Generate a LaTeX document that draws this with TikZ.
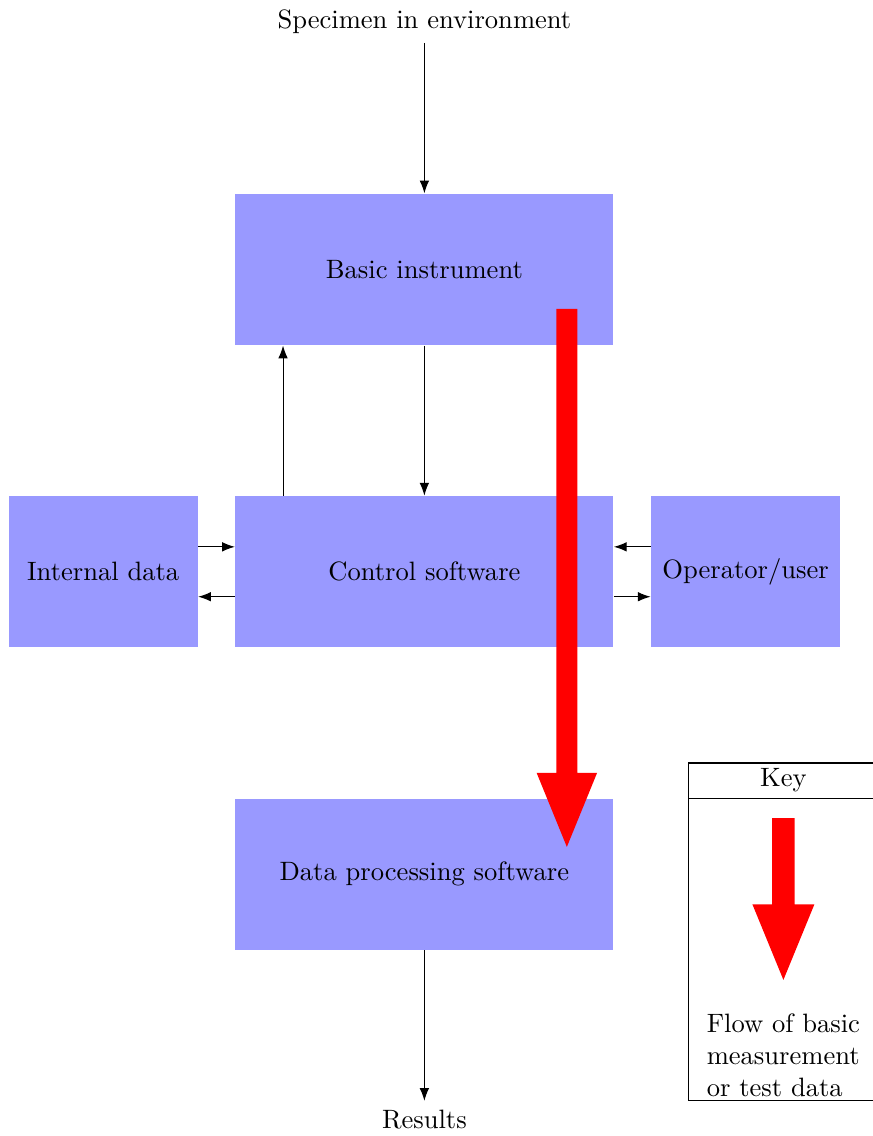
\documentclass[tikz,border=0pt]{standalone}
\usepackage{amsmath}
\usepackage{graphicx, xcolor, tikz}
\usetikzlibrary{positioning}
\usetikzlibrary{calc}
\usetikzlibrary{arrows.meta}

\begin{document}
\begin{tikzpicture}[
		block/.style={fill=blue!40, minimum width=5cm, minimum height=2cm},
		side block/.style={fill=blue!40, minimum width=2.5cm, minimum height=2cm},
		link/.style={-Latex},
		data flow/.style={fill=red}
		]
		\useasboundingbox (-5.615, 7.565) rectangle (5.935, -7.465);
		\node[block] (basic) at (0, 4) {Basic instrument};
		\node[block] (ctrl) at (0, 0) {Control software};
		\node[block] (proc) at (0, -4) {Data processing software};
		\node[side block] (intdata) at (-4.25, 0) {Internal data};
		\node[side block] (oper) at (4.25, 0) {Operator/user};
		\node (spec) at (0, 7.28) {Specimen in environment};
		\node (res) at (0, -7.25) {Results};
		
		\draw[link] (spec) -- (basic);
		\draw[link] (basic) -- (ctrl);
		\draw[link] ([xshift=-1.87cm]ctrl.north) -- ([xshift=-1.87cm]basic.south);
		\draw[link] ([yshift=0.33cm]intdata.east) -- ([yshift=0.33cm]ctrl.west);
		\draw[link] ([yshift=-0.33cm]ctrl.west) -- ([yshift=-0.33cm]intdata.east);
		\draw[link] ([yshift=0.33cm]oper.west) -- ([yshift=0.33cm]ctrl.east);
		\draw[link] ([yshift=-0.33cm]ctrl.east) -- ([yshift=-0.33cm]oper.west);
		\draw[link] (proc) -- (res);
		
		% basic data flow
		\fill[data flow] (1.745, 3.48) -- (2.025, 3.48) -- (2.025, -2.66) -- (2.285, -2.66)
			-- (1.885, -3.64) -- (1.485, -2.66) -- (1.745, -2.66) -- cycle;
		
		% key
		\draw (3.5, -2.53) rectangle (6, -7);
		\draw (3.5, -3) -- (6, -3);
		\node (keyhead) at (4.75, -2.76) {Key};
		\fill[data flow] (4.6, -3.26) -- (4.9, -3.26) -- (4.9, -4.4) -- (5.16, -4.4)
			-- (4.75, -5.4) -- (4.34, -4.4) -- (4.6, -4.4) -- cycle;
		\node[align=left] (keytext) at (4.75, -6.4) {Flow of basic\\measurement\\or test data};
	\end{tikzpicture}
\end{document}
